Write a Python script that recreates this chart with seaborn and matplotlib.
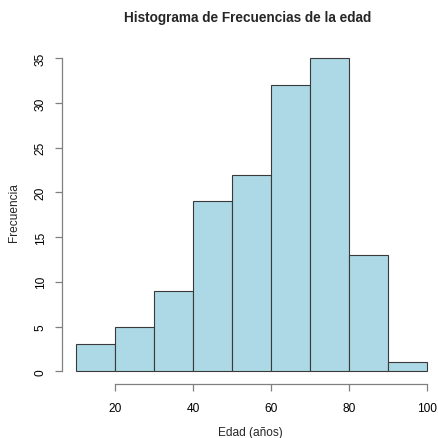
import numpy as np
import matplotlib
matplotlib.use('Agg')
import matplotlib.pyplot as plt
import seaborn as sns

# datos del histograma (edad)
bin_edges = [10, 20, 30, 40, 50, 60, 70, 80, 90, 100]
frecuencias = [3, 5, 9, 19, 22, 32, 35, 13, 1]
x_ticks = [20, 40, 60, 80, 100]
y_ticks = [0, 5, 10, 15, 20, 25, 30, 35]

sns.set_style('white')
plt.rcParams['font.family'] = ['Liberation Sans', 'DejaVu Sans']

centros = [(a + b) / 2 for a, b in zip(bin_edges[:-1], bin_edges[1:])]

fig = plt.figure(figsize=(4.38, 4.39), dpi=100)
ax = fig.add_axes([0.1413, 0.1235, 0.8664, 0.770])

sns.histplot(x=centros, weights=frecuencias, bins=bin_edges, ax=ax,
             color='#ADD8E6', edgecolor='#3a3a3a', linewidth=0.8, alpha=1.0)

# rango estilo R (4% de expansion)
pad_x = (bin_edges[-1] - bin_edges[0]) * 0.04
ax.set_xlim(bin_edges[0] - pad_x, bin_edges[-1] + pad_x)
pad_y = max(frecuencias) * 0.04
ax.set_ylim(-pad_y, max(frecuencias) + pad_y)

# ejes estilo R base
for s in ['top', 'right']:
    ax.spines[s].set_visible(False)
ax.spines['bottom'].set_bounds(x_ticks[0], x_ticks[-1])
ax.spines['left'].set_bounds(y_ticks[0], y_ticks[-1])
for s in ['bottom', 'left']:
    ax.spines[s].set_color('#808080')
    ax.spines[s].set_linewidth(0.9)

ax.set_xticks(x_ticks)
ax.set_yticks(y_ticks)
ax.set_yticklabels([str(v) for v in y_ticks], rotation=90, va='center')
ax.tick_params(axis='both', bottom=True, left=True, direction='out',
               length=5, width=0.9, color='#808080', labelsize=8.6,
               labelcolor='black')
ax.tick_params(axis='x', pad=8)
ax.tick_params(axis='y', pad=6)

ax.set_xlabel('Edad (años)', fontsize=8.6)
ax.set_ylabel('Frecuencia', fontsize=8.6)
ax.xaxis.set_label_coords(0.496, -0.1426)
ax.yaxis.set_label_coords(-0.126, 0.51)
for lbl in [ax.xaxis.label, ax.yaxis.label]:
    lbl.set_verticalalignment('center')
fig.text(0.566, 0.959, 'Histograma de Frecuencias de la edad',
         ha='center', va='center', fontsize=9.8, weight='bold')

fig.savefig('out.png', dpi=100)
